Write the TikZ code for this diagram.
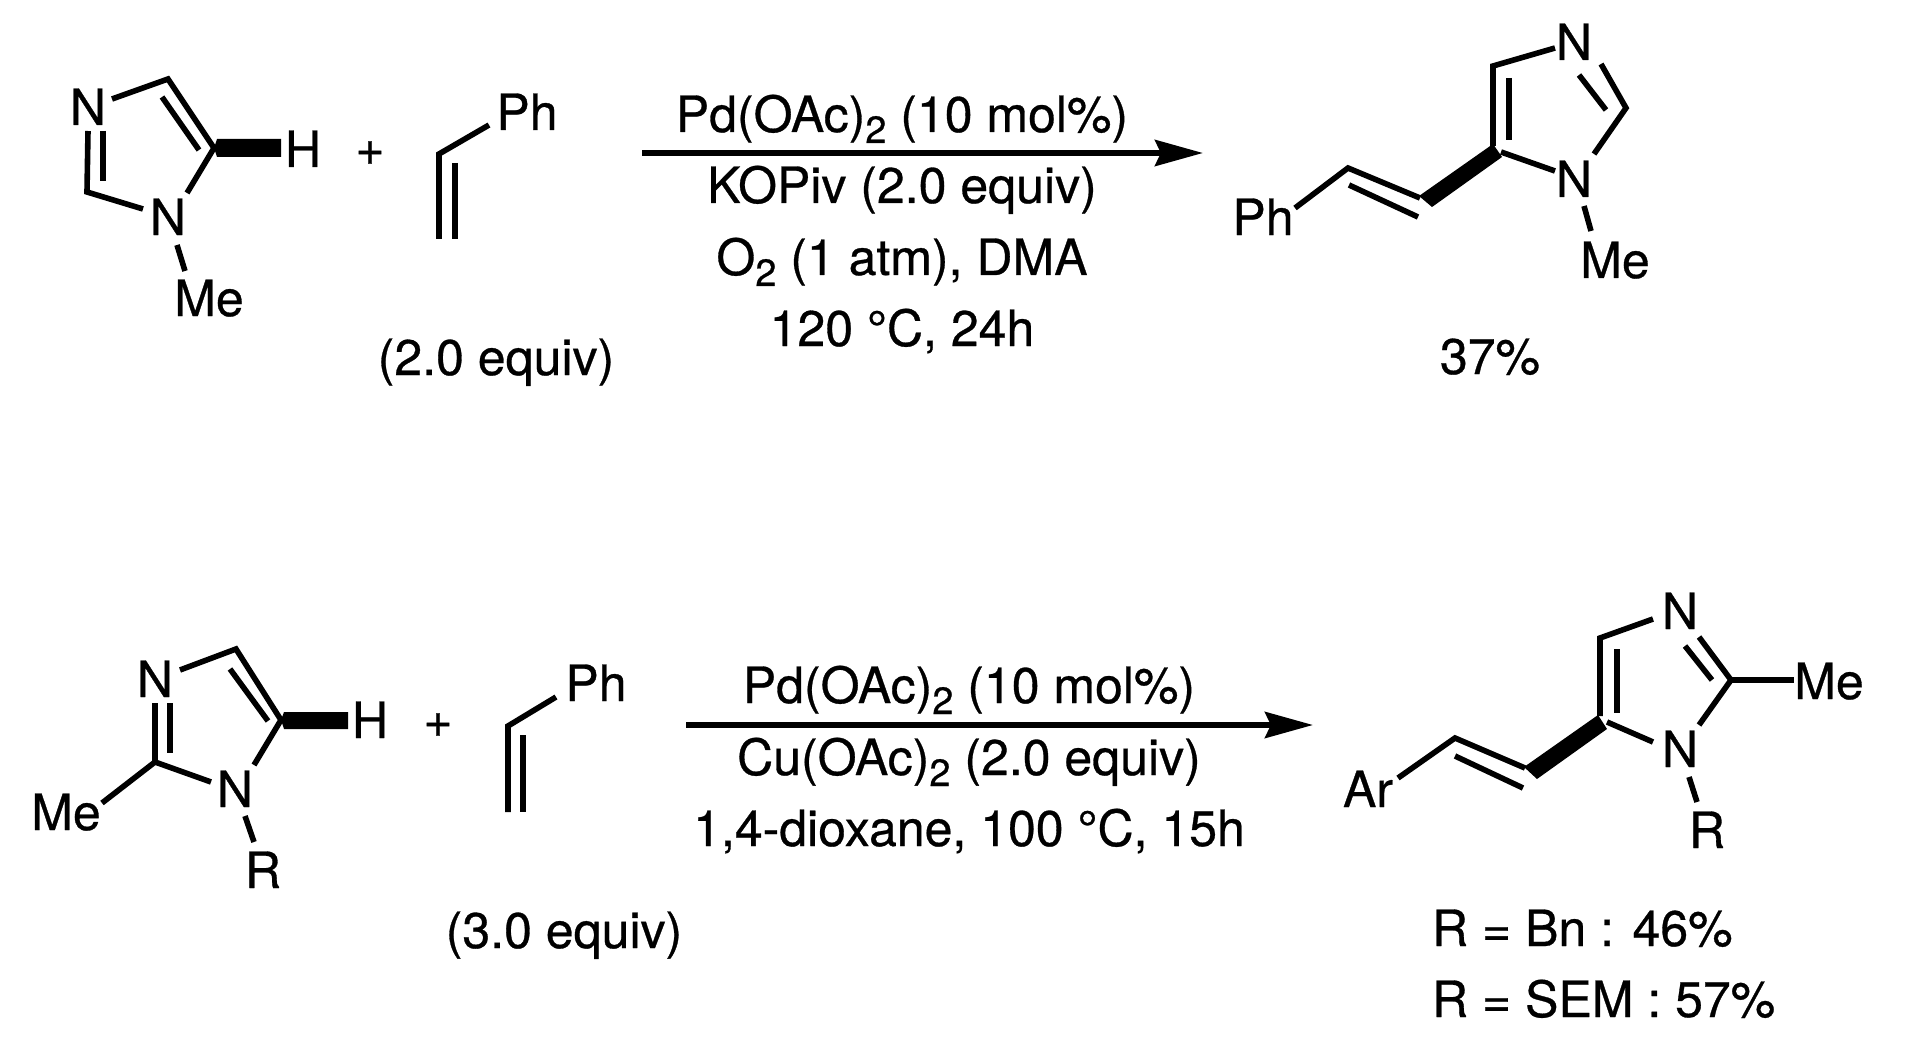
\documentclass[tikz,border=0pt]{standalone}
\usepackage{fontspec}
\setmainfont[FakeBold=0.6]{TeX Gyre Heros}
\usetikzlibrary{arrows.meta}
\newcommand{\subtwo}{\raisebox{-5.5pt}{\fontsize{19}{19}\selectfont 2}}
\tikzset{
  lab/.style={anchor=base,inner sep=0pt,outer sep=0pt,font=\fontsize{25}{30}\selectfont},
  bond/.style={line width=2.8pt,line cap=butt,line join=miter,black},
  bold/.style={fill=black,draw=none},
  rxn/.style={line width=3pt,-{Stealth[length=24pt,width=13pt,inset=3pt]},black}
}
\begin{document}
\begin{tikzpicture}[x=0.5pt,y=-0.5pt]
\path[fill=white,use as bounding box] (0,0) rectangle (1905,1043);
% ---------- top left imidazole
\node[lab] (tN1) at (88,125) {N};
\node[lab] (tN2) at (168,235) {N};
\node[lab] (tMe) at (209,316) {Me};
\node[lab] (tH) at (303,167) {H};
\node[lab] (tplus) at (370,165) {+};
\coordinate (a1) at (112,99);
\coordinate (a2) at (168,79);
\coordinate (a3) at (214,148);
\coordinate (a4) at (187,193);
\coordinate (a5) at (88,131);
\coordinate (a6) at (87,192);
\coordinate (a7) at (143,209);
\draw[bond] (a1) -- (a2) -- (a3) -- (a4);
\draw[bond] (a5) -- (a6) -- (a7);
\coordinate (a8) at (162,97); \coordinate (a9) at (199,150);
\draw[bond] (a8) -- (a9);
\coordinate (a10) at (103,131); \coordinate (a11) at (103,181);
\draw[bond] (a10) -- (a11);
\coordinate (a12) at (177,245); \coordinate (a13) at (185,271);
\draw[bond] (a12) -- (a13);
\fill[bold] (214,148) -- (217,139) -- (281,139) -- (281,157) -- (217,157) -- cycle;
% ---------- top styrene
\node[lab] (tPh) at (527,130) {Ph};
\node[lab] (teq) at (496,375) {(2.0 equiv)};
\coordinate (b1) at (489,125); \coordinate (b2) at (439,154); \coordinate (b3) at (439,239);
\coordinate (b4) at (455,163); \coordinate (b5) at (455,239);
\draw[bond] (b1) -- (b2) -- (b3);
\draw[bond] (b4) -- (b5);
% ---------- top arrow
\coordinate (ta) at (642,153); \coordinate (tb) at (1203,153);
\draw[rxn] (ta) -- (tb);
\node[lab] (tc1) at (902,132) {Pd(OAc)\subtwo{} (10 mol\%)};
\node[lab] (tc2) at (902,203) {KOPiv (2.0 equiv)};
\node[lab] (tc3) at (902,275) {O\subtwo{} (1 atm), DMA};
\node[lab] (tc4) at (902,346) {120 °C, 24h};
% ---------- top product
\node[lab] (pN1) at (1574,60) {N};
\node[lab] (pN2) at (1574,197) {N};
\node[lab] (pMe) at (1615,278) {Me};
\node[lab] (pPh) at (1263,235) {Ph};
\node[lab] (py) at (1490,374) {37\%};
\coordinate (c1) at (1555,48); \coordinate (c2) at (1493,66); \coordinate (c3) at (1493,146);
\coordinate (c4) at (1501,152); \coordinate (c5) at (1555,171);
\coordinate (c6) at (1601,64); \coordinate (c7) at (1626,108); \coordinate (c8) at (1594,154);
\coordinate (c9) at (1579,75); \coordinate (c10) at (1606,110);
\coordinate (c11) at (1509,78); \coordinate (c12) at (1509,140);
\coordinate (c13) at (1584,206); \coordinate (c14) at (1591,231);
\coordinate (c15) at (1295,208); \coordinate (c16) at (1348,168); \coordinate (c17) at (1420,198);
\coordinate (c18) at (1349,185); \coordinate (c19) at (1418,217);
\draw[bond] (c1) -- (c2) -- (c3);
\draw[bond] (c4) -- (c5);
\draw[bond] (c6) -- (c7) -- (c8);
\draw[bond] (c9) -- (c10);
\draw[bond] (c11) -- (c12);
\draw[bond] (c13) -- (c14);
\draw[bond] (c15) -- (c16) -- (c17);
\draw[bond] (c18) -- (c19);
\fill[bold] (1493,144) -- (1502,157) -- (1432,207) -- (1419,196) -- cycle;
% ---------- bottom left imidazole
\node[lab] (bN1) at (155,697) {N};
\node[lab] (bN2) at (235,807) {N};
\node[lab] (bMe) at (66,830) {Me};
\node[lab] (bR) at (263,888) {R};
\node[lab] (bH) at (370,738) {H};
\node[lab] (bplus) at (438,737) {+};
\coordinate (d1) at (180,670); \coordinate (d2) at (236,649); \coordinate (d3) at (281,720);
\coordinate (d4) at (254,765); \coordinate (d5) at (155,703); \coordinate (d6) at (155,762);
\coordinate (d7) at (211,782); \coordinate (d8) at (102,803);
\coordinate (d9) at (230,669); \coordinate (d10) at (268,721);
\coordinate (d11) at (170,703); \coordinate (d12) at (170,753);
\coordinate (d13) at (245,816); \coordinate (d14) at (254,842);
\draw[bond] (d1) -- (d2) -- (d3) -- (d4);
\draw[bond] (d5) -- (d6) -- (d7);
\draw[bond] (d6) -- (d8);
\draw[bond] (d9) -- (d10);
\draw[bond] (d11) -- (d12);
\draw[bond] (d13) -- (d14);
\fill[bold] (281,720) -- (284,712) -- (348,712) -- (348,729) -- (284,729) -- cycle;
% ---------- bottom styrene
\node[lab] (bPh) at (596,701) {Ph};
\node[lab] (beq) at (564,948) {(3.0 equiv)};
\coordinate (e1) at (556,697); \coordinate (e2) at (508,726); \coordinate (e3) at (508,812);
\coordinate (e4) at (523,735); \coordinate (e5) at (523,812);
\draw[bond] (e1) -- (e2) -- (e3);
\draw[bond] (e4) -- (e5);
% ---------- bottom arrow
\coordinate (ba) at (686,725); \coordinate (bb) at (1313,725);
\draw[rxn] (ba) -- (bb);
\node[lab] (bc1) at (969,703) {Pd(OAc)\subtwo{} (10 mol\%)};
\node[lab] (bc2) at (969,775) {Cu(OAc)\subtwo{} (2.0 equiv)};
\node[lab] (bc3) at (969,846) {1,4-dioxane, 100 °C, 15h};
% ---------- bottom product
\node[lab] (qN1) at (1680,629) {N};
\node[lab] (qN2) at (1680,767) {N};
\node[lab] (qMe) at (1829,699) {Me};
\node[lab] (qR) at (1707,848) {R};
\node[lab] (qAr) at (1368,807) {Ar};
\node[lab,anchor=base west] (qy1) at (1432,946) {R = Bn : 46\%};
\node[lab,anchor=base west] (qy2) at (1432,1017) {R = SEM : 57\%};
\coordinate (f1) at (1653,619); \coordinate (f2) at (1600,638); \coordinate (f3) at (1600,716);
\coordinate (f4) at (1607,722); \coordinate (f5) at (1653,742);
\coordinate (f6) at (1699,637); \coordinate (f7) at (1731,680); \coordinate (f8) at (1699,725);
\coordinate (f9) at (1685,646); \coordinate (f10) at (1712,680);
\coordinate (f11) at (1617,649); \coordinate (f12) at (1617,713);
\coordinate (f13) at (1689,777); \coordinate (f14) at (1697,802);
\coordinate (f15) at (1794,680);
\coordinate (f16) at (1398,778); \coordinate (f17) at (1455,738); \coordinate (f18) at (1525,768);
\coordinate (f19) at (1455,756); \coordinate (f20) at (1523,788);
\draw[bond] (f1) -- (f2) -- (f3);
\draw[bond] (f4) -- (f5);
\draw[bond] (f6) -- (f7) -- (f8);
\draw[bond] (f7) -- (f15);
\draw[bond] (f9) -- (f10);
\draw[bond] (f11) -- (f12);
\draw[bond] (f13) -- (f14);
\draw[bond] (f16) -- (f17) -- (f18);
\draw[bond] (f19) -- (f20);
\fill[bold] (1598,715) -- (1607,729) -- (1537,779) -- (1524,767) -- cycle;
\end{tikzpicture}
\end{document}
